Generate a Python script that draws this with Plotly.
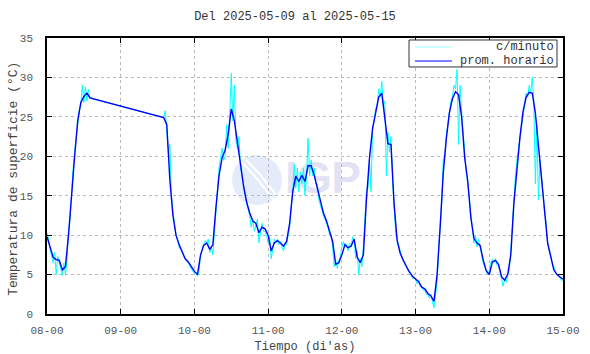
import plotly.graph_objects as go

# ---------------- data ----------------
# hourly average (prom. horario): day -> (first hour, values one per hour)
hourly_days = [8, 9, 10, 11, 12, 13, 14, 15]
hourly_start = [0, 14, 0, 0, 0, 0, 0, 0]
hourly_vals = [
    [9.8, 8.6, 7.2, 6.9, 6.8, 5.6, 6.0, 10.0, 15.3, 20.0, 24.5, 26.8, 27.6, 28.0, 27.4],
    [24.9, 24.0, 17.0, 12.5, 10.0, 8.8, 7.9, 7.0, 6.6, 6.0],
    [5.4, 5.0, 7.5, 8.7, 9.0, 8.2, 8.8, 13.5, 17.5, 19.8, 20.8, 22.8, 26.0, 24.5,
     22.0, 19.0, 16.2, 14.2, 12.8, 11.8, 11.5, 10.3, 11.0, 10.8],
    [10.0, 8.0, 9.0, 9.3, 9.0, 8.6, 9.2, 11.5, 15.5, 17.5, 16.8, 17.6, 16.8, 18.8,
     18.8, 17.6, 16.0, 14.5, 12.8, 11.8, 10.4, 9.2, 6.3, 6.5],
    [7.5, 8.8, 8.4, 8.6, 9.5, 7.2, 6.5, 7.5, 14.5, 19.8, 23.5, 25.5, 27.5, 28.0,
     24.5, 21.6, 21.5, 14.0, 9.3, 7.7, 6.8, 6.0, 5.3, 4.8],
    [4.4, 4.1, 3.4, 3.2, 2.6, 2.3, 1.6, 5.0, 11.0, 17.8, 22.2, 25.5, 27.3, 28.2,
     27.8, 25.0, 19.8, 16.8, 12.2, 9.6, 9.0, 8.7, 6.9, 5.5],
    [5.0, 6.6, 6.8, 6.3, 4.7, 4.3, 5.0, 7.5, 14.0, 18.5, 22.5, 25.7, 27.5, 28.1,
     28.0, 25.5, 21.5, 17.5, 13.3, 9.0, 7.3, 5.6, 5.0, 4.7],
    [4.4],
]

# per-minute series (c/minuto), read every half hour incl. visible spikes
minute_days = [8, 9, 10, 11, 12, 13, 14, 15]
minute_start = [0, 14, 0, 0, 0, 0, 0, 0]
minute_vals = [
    [10.3, 9.5, 8.2, 7.5, 6.5, 7.8, 5.0, 7.3, 6.5, 5.5, 4.9, 6.5, 5.0, 6.8, 10.5, 12.0,
     15.8, 18.5, 20.5, 22.5, 24.0, 25.8, 26.5, 29.0, 26.8, 28.8, 27.0, 28.5, 27.4],
    [24.9, 25.8, 22.5, 20.5, 21.5, 15.0, 13.0, 11.5, 10.0, 9.5, 8.5, 8.2, 7.8, 7.2,
     7.0, 6.8, 6.4, 6.0, 5.8, 5.4],
    [5.2, 5.3, 4.8, 5.5, 7.5, 8.0, 8.8, 9.3, 9.0, 9.5, 7.8, 8.5, 7.5, 10.5, 13.0, 16.5,
     18.5, 19.8, 21.0, 19.5, 20.0, 24.0, 21.0, 25.5, 30.5, 24.5, 29.0, 22.0, 21.0, 22.5,
     18.5, 17.5, 16.0, 15.0, 14.0, 13.0, 12.5, 11.0, 12.0, 10.5, 11.5, 12.0, 9.0, 10.5,
     11.5, 10.5, 10.5, 10.0],
    [9.0, 9.8, 7.0, 8.2, 9.5, 9.0, 9.5, 8.8, 9.2, 8.5, 8.0, 9.0, 8.8, 10.0, 11.0, 13.5,
     15.5, 19.0, 16.0, 18.5, 15.5, 18.0, 16.5, 18.5, 15.0, 17.5, 22.3, 17.5, 19.5, 17.5,
     18.5, 16.5, 16.5, 14.5, 13.8, 13.0, 12.5, 12.0, 11.5, 11.0, 10.0, 9.8, 8.5, 6.0,
     6.8, 5.8, 6.8, 7.2],
    [8.5, 9.2, 8.5, 8.8, 8.0, 9.0, 8.5, 9.8, 9.5, 7.0, 8.0, 5.0, 7.0, 6.0, 8.5, 11.5,
     15.5, 16.0, 19.5, 15.5, 23.5, 24.5, 26.0, 26.5, 28.5, 27.5, 29.5, 26.5, 27.0, 17.5,
     23.0, 20.5, 22.5, 17.0, 13.0, 10.5, 9.5, 8.5, 8.0, 7.3, 6.8, 6.3, 6.0, 5.5,
     5.5, 5.0, 4.5, 4.5],
    [4.5, 3.8, 4.3, 3.5, 3.5, 3.0, 3.0, 2.5, 2.5, 2.0, 2.5, 1.5, 0.8, 2.5, 4.0, 8.0,
     10.5, 14.0, 19.5, 20.0, 22.5, 24.0, 25.0, 27.0, 27.5, 29.0, 28.5, 31.0, 21.5, 29.0,
     25.5, 23.0, 20.0, 18.0, 16.5, 14.5, 12.5, 11.0, 9.0, 10.0, 8.5, 9.5, 8.5, 7.5,
     6.5, 6.0, 5.5, 5.0],
    [5.5, 6.5, 7.0, 6.5, 7.0, 6.2, 6.0, 5.5, 4.5, 3.5, 4.5, 4.0, 5.0, 5.5, 8.0, 11.5,
     15.0, 17.5, 19.5, 21.0, 22.5, 24.0, 25.5, 26.5, 28.0, 27.5, 29.0, 28.0, 30.0, 27.0,
     16.5, 24.0, 14.5, 19.5, 17.0, 15.5, 13.0, 11.5, 9.0, 8.0, 7.5, 6.5, 6.0, 5.5,
     5.0, 4.8, 4.5, 4.3],
    [4.2],
]

tick_days = [8, 9, 10, 11, 12, 13, 14, 15]
tick_labels = ["08-00", "09-00", "10-00", "11-00", "12-00", "13-00", "14-00", "15-00"]
y_ticks = [0, 5, 10, 15, 20, 25, 30, 35]
legend_names = ["c/minuto", "prom. horario"]
colors = ["#00ffff", "#0000ff"]


def expand(days, starts, vals, step_h):
    xs, ys = [], []
    for d, s, v in zip(days, starts, vals):
        for i, val in enumerate(v):
            xs.append(d + (s + i * step_h) / 24.0)
            ys.append(val)
    return xs, ys


hx, hy = expand(hourly_days, hourly_start, hourly_vals, 1.0)
mx, my = expand(minute_days, minute_start, minute_vals, 0.5)

FONT = "Liberation Mono"
GRAY = "#555555"

fig = go.Figure()
fig.add_trace(go.Scatter(x=mx, y=my, mode="lines", name=legend_names[0],
                         line=dict(color=colors[0], width=1)))
fig.add_trace(go.Scatter(x=hx, y=hy, mode="lines", name=legend_names[1],
                         line=dict(color=colors[1], width=1.4)))

# faint IGP watermark (below traces)
fig.add_shape(type="circle", xref="paper", yref="paper", layer="below",
              x0=0.3585, x1=0.4554, y0=0.395, y1=0.576,
              fillcolor="#e4ebfb", line=dict(width=0))
for px0, px1 in [(0.372, 0.44), (0.385, 0.452)]:
    fig.add_shape(type="path", xref="paper", yref="paper", layer="below",
                  path=f"M {px0},0.56 Q {(px0+px1)/2},0.50 {px1},0.41",
                  line=dict(color="white", width=2))
fig.add_shape(type="rect", xref="paper", yref="paper", layer="below",
              x0=0.46, x1=0.61, y0=0.44, y1=0.58,
              line=dict(width=0), fillcolor="rgba(0,0,0,0)",
              label=dict(text="<b>IGP</b>", textposition="middle center",
                         font=dict(family="Liberation Sans", size=44, color="#e2e2f4")))

# legend drawn as a boxed key
fig.add_shape(type="rect", xref="paper", yref="paper", layer="above",
              x0=0.7016, x1=0.9884, y0=0.895, y1=0.9928,
              fillcolor="white", line=dict(color="#333", width=1))
for i, (nm, col) in enumerate(zip(legend_names, colors)):
    yy = 0.9674 - i * 0.0507
    fig.add_shape(type="line", xref="paper", yref="paper", layer="above",
                  x0=0.7132, x1=0.7849, y0=yy, y1=yy,
                  line=dict(color="#99ffff" if i == 0 else col, width=1.2))
    fig.add_annotation(xref="paper", yref="paper", x=0.9864, y=yy, xanchor="right",
                       yanchor="middle", text=nm, showarrow=False,
                       font=dict(family=FONT, size=12, color="#333"))

# y axis title
fig.add_annotation(xref="paper", yref="paper", x=-0.064, y=0.49, xanchor="center",
                   yanchor="middle", textangle=-90, showarrow=False,
                   text="Temperatura de superficie (°C)",
                   font=dict(family=FONT, size=13, color="#444"))

axis_common = dict(showline=True, linecolor="black", linewidth=1.5, mirror="ticks",
                   ticks="inside", ticklen=5, tickcolor="black", tickwidth=1,
                   showgrid=True, gridcolor="#bbbbbb", griddash="dot", gridwidth=1,
                   zeroline=False, automargin=False,
                   tickfont=dict(family=FONT, size=11, color=GRAY))

fig.update_xaxes(range=[8, 15], tickvals=tick_days, ticktext=tick_labels,
                 title=dict(text="Tiempo (di'as)", font=dict(family=FONT, size=12, color="#444")),
                 ticklabelstandoff=5, **axis_common)
fig.update_yaxes(range=[0, 35], tickvals=y_ticks,
                 ticklabelstandoff=10, **axis_common)

fig.update_layout(
    width=590, height=354,
    margin=dict(l=47, r=27, t=38, b=40),
    paper_bgcolor="white", plot_bgcolor="white",
    title=dict(text="Del 2025-05-09 al 2025-05-15", x=0.5, xanchor="center",
               y=0.955, yanchor="middle",
               font=dict(family=FONT, size=12, color="#333")),
    showlegend=False,
)

fig.write_html("out.html")
